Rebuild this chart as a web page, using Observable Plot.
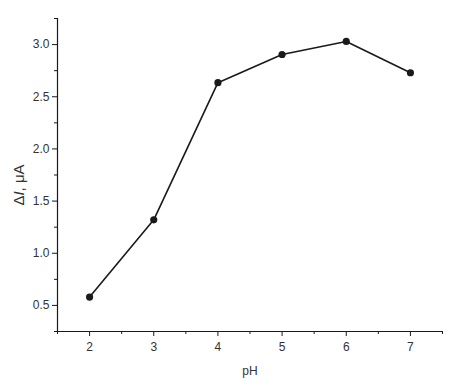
<!DOCTYPE html>
<html>
<head>
<meta charset="utf-8">
<script src="https://cdn.jsdelivr.net/npm/d3@7"></script>
<script src="https://cdn.jsdelivr.net/npm/@observablehq/plot@0.6"></script>
<style>
  html, body { margin: 0; padding: 0; background: #fff; }
  svg { font-family: "Liberation Sans", Arial, sans-serif; }
</style>
</head>
<body>
<div id="chart"></div>
<script>
const pH = [2, 3, 4, 5, 6, 7];
const current = [0.58, 1.32, 2.635, 2.905, 3.03, 2.73];
const yMajor = [0.5, 1.0, 1.5, 2.0, 2.5, 3.0];
const yMinor = [0.25, 0.75, 1.25, 1.75, 2.25, 2.75, 3.25];
const xMajor = [2, 3, 4, 5, 6, 7];
const xMinor = [1.5, 2.5, 3.5, 4.5, 5.5, 6.5, 7.5];

const data = pH.map((p, i) => ({pH: p, I: current[i]}));
const ink = "#1a1a1a";
const textInk = "#333";

const chart = Plot.plot({
  width: 455,
  height: 388,
  marginLeft: 57,
  marginTop: 18,
  marginRight: 13,
  marginBottom: 57,
  style: {fontFamily: "Liberation Sans, Arial, sans-serif", fontSize: "12px", color: ink, background: "#fff"},
  x: {domain: [1.5, 7.5]},
  y: {domain: [0.25, 3.25]},
  marks: [
    Plot.axisY({ticks: yMajor, tickSize: 5, tickPadding: 3, tickFormat: d3.format(".1f"), label: null, fontSize: 12, fill: textInk}),
    Plot.axisY({ticks: yMinor, tickSize: 3, tickFormat: () => "", label: null}),
    Plot.axisX({ticks: xMajor, tickSize: 5, tickPadding: 6, tickFormat: d3.format("d"), label: null, fontSize: 12, fill: textInk}),
    Plot.axisX({ticks: xMinor, tickSize: 3, tickFormat: () => "", label: null}),
    Plot.ruleX([1.5], {stroke: ink, strokeWidth: 1.2}),
    Plot.ruleY([0.25], {stroke: ink, strokeWidth: 1.2}),
    Plot.line(data, {x: "pH", y: "I", stroke: ink, strokeWidth: 1.6}),
    Plot.dot(data, {x: "pH", y: "I", r: 3.6, fill: ink, stroke: "none"}),
    Plot.text(["pH"], {frameAnchor: "bottom", dy: 43, text: d => d, fontSize: 12, fill: textInk}),
    Plot.text(["ΔI, μA"], {frameAnchor: "left", textAnchor: "middle", dx: -38, dy: 10, rotate: -90, text: d => d, fontSize: 15, fill: textInk})
  ]
});
// italic I in the y label
chart.querySelectorAll("text").forEach(t => {
  if (t.textContent === "ΔI, μA") {
    t.innerHTML = "";
    const ns = "http://www.w3.org/2000/svg";
    const a = document.createElementNS(ns, "tspan"); a.textContent = "Δ";
    const b = document.createElementNS(ns, "tspan"); b.textContent = "I"; b.setAttribute("font-style", "italic");
    const c = document.createElementNS(ns, "tspan"); c.textContent = ", μA";
    t.append(a, b, c);
  }
});
document.getElementById("chart").append(chart);
</script>
</body>
</html>
